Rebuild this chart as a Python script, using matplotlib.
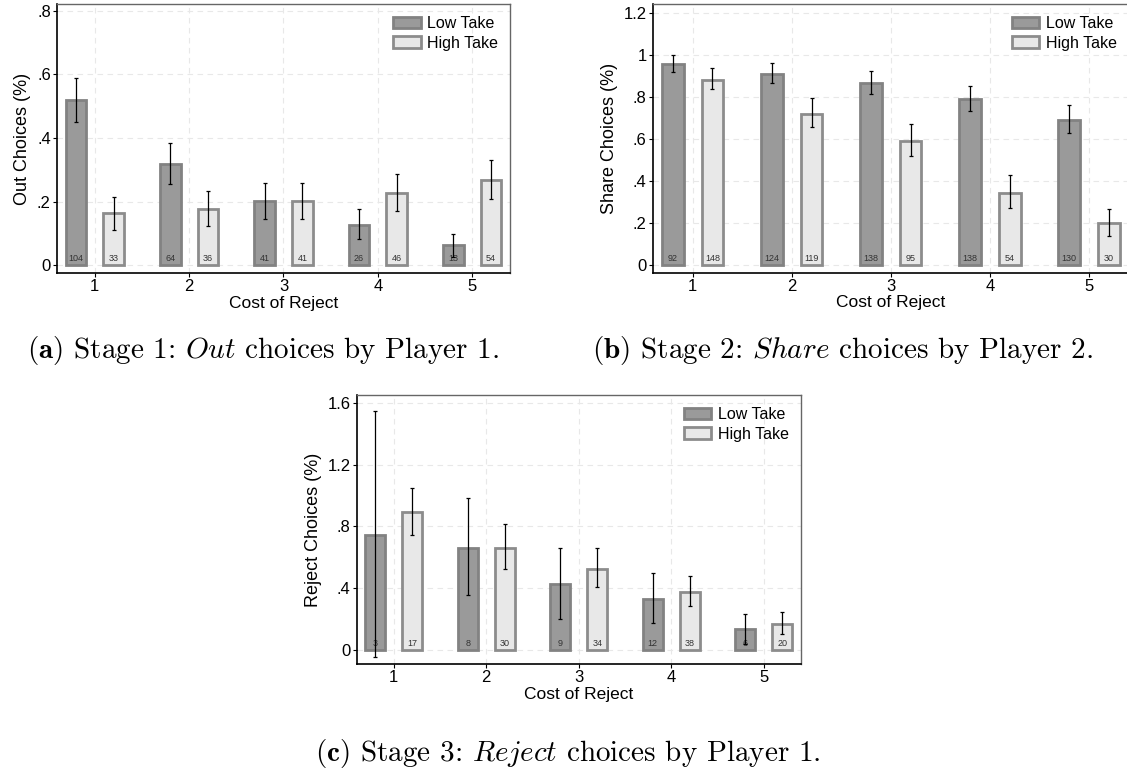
import matplotlib

matplotlib.use("Agg")

import matplotlib.pyplot as plt
import numpy as np

plt.rcParams["font.family"] = ["Liberation Sans", "DejaVu Sans"]
plt.rcParams["mathtext.fontset"] = "cm"

# cost of reject on the x axis
cost = [1, 2, 3, 4, 5]
legend_labels = ["Low Take", "High Take"]

# Stage 1: Out choices
out_low = [0.52, 0.318, 0.202, 0.126, 0.063]
out_low_lo = [0.449, 0.255, 0.147, 0.082, 0.027]
out_low_hi = [0.589, 0.385, 0.26, 0.176, 0.10]
out_high = [0.163, 0.176, 0.202, 0.227, 0.267]
out_high_lo = [0.112, 0.125, 0.147, 0.171, 0.207]
out_high_hi = [0.215, 0.233, 0.26, 0.288, 0.33]
out_n_low = [104, 64, 41, 26, 13]
out_n_high = [33, 36, 41, 46, 54]
out_yticks = [0, 0.2, 0.4, 0.6, 0.8]
out_yticklabels = ["0", ".2", ".4", ".6", ".8"]

# Stage 2: Share choices
share_low = [0.957, 0.91, 0.868, 0.79, 0.69]
share_low_lo = [0.919, 0.865, 0.815, 0.732, 0.628]
share_low_hi = [1.0, 0.962, 0.922, 0.853, 0.761]
share_high = [0.88, 0.72, 0.59, 0.345, 0.20]
share_high_lo = [0.838, 0.656, 0.519, 0.27, 0.137]
share_high_hi = [0.935, 0.795, 0.672, 0.427, 0.269]
share_n_low = [92, 124, 138, 138, 130]
share_n_high = [148, 119, 95, 54, 30]
share_yticks = [0, 0.2, 0.4, 0.6, 0.8, 1.0, 1.2]
share_yticklabels = ["0", ".2", ".4", ".6", ".8", "1", "1.2"]

# Stage 3: Reject choices
reject_low = [0.744, 0.662, 0.427, 0.332, 0.138]
reject_low_lo = [-0.043, 0.356, 0.198, 0.172, 0.04]
reject_low_hi = [1.546, 0.981, 0.662, 0.496, 0.235]
reject_high = [0.891, 0.662, 0.526, 0.373, 0.168]
reject_high_lo = [0.744, 0.524, 0.405, 0.285, 0.103]
reject_high_hi = [1.046, 0.813, 0.658, 0.479, 0.244]
reject_n_low = [3, 8, 9, 12, 6]
reject_n_high = [17, 30, 34, 38, 20]
reject_yticks = [0, 0.4, 0.8, 1.2, 1.6]
reject_yticklabels = ["0", ".4", ".8", "1.2", "1.6"]

LOW_FACE, LOW_EDGE = "#9a9a9a", "#828282"
HIGH_FACE, HIGH_EDGE = "#e8e8e8", "#8c8c8c"


def draw_panel(ax, low, low_lo, low_hi, high, high_lo, high_hi, n_low, n_high,
               ylim, yticks, yticklabels, ylabel):
    x = np.array(cost)
    groups = [
        (x - 0.2, low, low_lo, low_hi, n_low, LOW_FACE, LOW_EDGE, legend_labels[0]),
        (x + 0.2, high, high_lo, high_hi, n_high, HIGH_FACE, HIGH_EDGE, legend_labels[1]),
    ]
    for xs, vals, lo, hi, ns, face, edge, label in groups:
        vals = np.array(vals)
        ax.bar(xs, vals, width=0.22, color=face, edgecolor=edge, linewidth=2,
               label=label, zorder=2)
        for xi, n in zip(xs, ns):
            ax.annotate(str(n), (xi, 0), xytext=(0, 5), textcoords="offset points",
                        ha="center", va="center", fontsize=6.5, color="#333333", zorder=3)
        err = [vals - np.array(lo), np.array(hi) - vals]
        ax.errorbar(xs, vals, yerr=err, fmt="none", ecolor="black", elinewidth=0.9,
                    capsize=1.6, capthick=0.9, zorder=4)

    ax.set_xlim(0.6, 5.4)
    ax.set_ylim(*ylim)
    ax.set_xticks(cost)
    ax.set_yticks(yticks)
    ax.set_yticklabels(yticklabels)
    ax.tick_params(labelsize=12, length=3, width=0.8, pad=1.5)
    ax.set_xlabel("Cost of Reject", fontsize=12.5, labelpad=1)
    ax.set_ylabel(ylabel, fontsize=13, labelpad=4)
    ax.grid(True, color="#e8e8e8", linestyle=(0, (5, 4)), linewidth=0.8, zorder=0)
    ax.set_axisbelow(True)
    for side in ["left", "bottom"]:
        ax.spines[side].set_color("black")
        ax.spines[side].set_linewidth(1.2)
    for side in ["top", "right"]:
        ax.spines[side].set_color("#666666")
        ax.spines[side].set_linewidth(1.0)
    ax.legend(loc="upper right", frameon=False, fontsize=11.5, handlelength=1.7,
              handleheight=0.75, handletextpad=0.4, labelspacing=0.3,
              borderaxespad=0.35)


fig = plt.figure(figsize=(11.27, 7.72), dpi=100)
ax_a = fig.add_axes([0.0506, 0.6464, 0.4019, 0.3484])
ax_b = fig.add_axes([0.5794, 0.6468, 0.4220, 0.3480])
ax_c = fig.add_axes([0.3165, 0.1399, 0.3940, 0.3484])

draw_panel(ax_a, out_low, out_low_lo, out_low_hi, out_high, out_high_lo, out_high_hi,
           out_n_low, out_n_high, (-0.024, 0.821), out_yticks, out_yticklabels,
           "Out Choices (%)")
draw_panel(ax_b, share_low, share_low_lo, share_low_hi, share_high, share_high_lo,
           share_high_hi, share_n_low, share_n_high, (-0.035, 1.241), share_yticks,
           share_yticklabels, "Share Choices (%)")
draw_panel(ax_c, reject_low, reject_low_lo, reject_low_hi, reject_high, reject_high_lo,
           reject_high_hi, reject_n_low, reject_n_high, (-0.09, 1.65), reject_yticks,
           reject_yticklabels, "Reject Choices (%)")

cap_kw = dict(ha="center", va="center", fontsize=21, family="cmr10")
fig.text(263 / 1127, 1 - 350 / 772,
         r"$\mathbf{(a)}$ Stage 1: $\mathit{Out}$ choices by Player 1.", **cap_kw)
fig.text(843 / 1127, 1 - 350 / 772,
         r"$\mathbf{(b)}$ Stage 2: $\mathit{Share}$ choices by Player 2.", **cap_kw)
fig.text(568 / 1127, 1 - 753 / 772,
         r"$\mathbf{(c)}$ Stage 3: $\mathit{Reject}$ choices by Player 1.", **cap_kw)

fig.savefig("out.png", dpi=100)
plt.close(fig)
